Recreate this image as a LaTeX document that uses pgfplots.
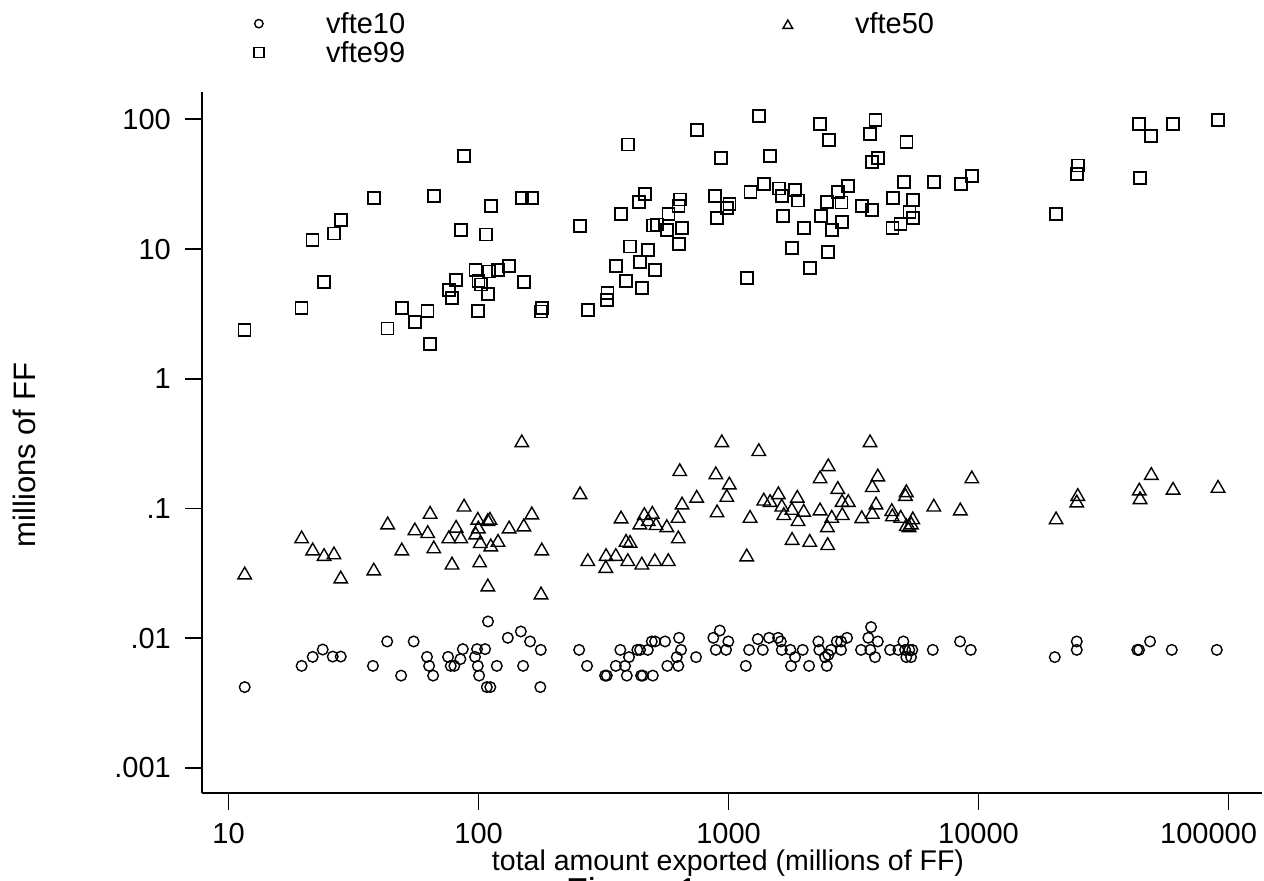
\documentclass[border=0pt]{standalone}
\usepackage{pgfplots}
\pgfplotsset{compat=1.18}
\usepackage{fontspec}
\setmainfont{Liberation Sans}
\begin{document}
\begin{tikzpicture}
\useasboundingbox (0pt,0pt) rectangle (1264pt,881pt);
\begin{axis}[
  at={(202pt,88pt)}, anchor=south west,
  scale only axis, width=1060pt, height=701pt,
  xmode=log, ymode=log,
  xmin=7.83, xmax=136100, ymin=0.000641, ymax=162.4,
  axis x line*=bottom, axis y line*=left,
  axis line style={line width=2pt, -},
  xtick={10,100,1000,10000,100000},
  xticklabels={10,100,1000,10000,{\hskip-40pt 100000}},
  ytick={0.001,0.01,0.1,1,10,100},
  yticklabels={.001,.01,.1,1,10,100},
  xminorticks=false, yminorticks=false,
  tick align=outside, major tick length=17pt,
  tick style={line width=1.8pt, black},
  tick label style={font=\fontsize{29}{34}\selectfont, inner sep=0pt},
  xticklabel style={anchor=north, yshift=-13.5pt},
  yticklabel style={anchor=east, xshift=-14pt},
  clip=false,
  legend columns=2,
  legend style={at={(axis description cs:0.0453,1.1138)}, anchor=north west,
    draw=none, fill=none, inner sep=0pt, row sep=6.25pt,
    font=\fontsize{29}{34}\selectfont,
    nodes={inner sep=0pt, text depth=0.15em},
    /tikz/every even column/.append style={column sep=374pt}},
  legend cell align=left,
  legend image code/.code={\path (-8pt,0pt) (66.7pt,0pt); \draw[#1] plot coordinates {(0pt,0pt)};},
]
\addplot[only marks, mark=o, mark size=5.3pt, mark options={line width=1.4pt, black},
  legend image post style={mark size=4.2pt, line width=1.2pt}]
coordinates {
(11.6,0.0042) (19.6,0.00612) (21.7,0.00718) (23.8,0.00818) (26.1,0.00722) (28.1,0.00722)
(37.8,0.00612) (43.1,0.00944) (49.0,0.00515) (55.0,0.00944) (62.2,0.00718) (63.4,0.00612)
(65.8,0.00515) (75.5,0.00718) (77.4,0.00612) (80.0,0.00612) (84.6,0.0069) (86.5,0.00824)
(96.8,0.00718) (98.6,0.00824) (99.3,0.00612) (100.5,0.00515) (106.2,0.00824) (107.9,0.0042)
(111.4,0.0042) (109.1,0.01346) (118.3,0.00612) (130.9,0.01007) (147.6,0.01127) (150.7,0.00612)
(160.7,0.00944) (177.4,0.00813) (176.6,0.0042)
(252.5,0.00813) (271.6,0.00612) (320.6,0.00515) (325.8,0.00515) (354,0.00612) (369,0.00813)
(385.5,0.00612) (399.9,0.00715) (391.7,0.00515) (431.5,0.00813) (442.6,0.00813) (446.7,0.00515)
(453.6,0.00515) (475.3,0.00813) (497.7,0.00515) (493,0.00944) (508.2,0.00944) (557.2,0.00944)
(568.9,0.00612) (620.5,0.00715) (629.5,0.00612) (645.7,0.00813) (633.9,0.01007) (741.3,0.00715)
(869,0.01007) (922.5,0.01146) (889,0.00813) (977.2,0.00813) (997.7,0.00944) (1172,0.00612)
(1208,0.00813) (1309,0.00985) (1371,0.00813) (1452,0.01007) (1578,0.01007) (1618,0.00944)
(1633,0.00813) (1767,0.00813) (1778,0.00612) (1845,0.00715) (1980,0.00813) (2099,0.00612)
(2286,0.00944) (2307,0.00813) (2432,0.00715) (2471,0.00612) (2570,0.00813) (2506,0.00745)
(2710,0.00944) (2818,0.00944) (2818,0.00813) (2979,0.01007) (3388,0.00813) (3715,0.01219)
(3623,0.01007) (3690,0.00813) (3954,0.00944) (3855,0.00715) (4426,0.00813) (4778,0.00813)
(5003,0.00944) (5082,0.00813) (5140,0.00715) (5284,0.00813) (5433,0.00813) (5370,0.00715)
(6561,0.00813) (8433,0.00944) (9306,0.00813) (20180,0.00715) (24710,0.00944) (24710,0.00813)
(43150,0.00813) (43850,0.00813) (48530,0.00944) (59290,0.00813) (89740,0.00813)
};
\addlegendentry{vfte10}
\addplot[only marks, mark=triangle, mark size=7.8pt, mark options={line width=1.4pt, black, yshift=-1.9pt},
  legend image post style={mark size=5.5pt, line width=1.2pt}]
coordinates {
(11.6,0.0318) (19.6,0.0603) (21.7,0.0487) (24.1,0.0441) (26.4,0.0454) (28.1,0.0296)
(38.1,0.0341) (43.3,0.0773) (49.3,0.0487) (55.6,0.0695) (62.6,0.0662) (64.0,0.0933)
(66.2,0.0505) (76.0,0.0603) (78.3,0.0379) (81.3,0.0728) (84.9,0.0603) (87.5,0.106)
(99.3,0.0839) (97.4,0.0647) (99.8,0.0719) (101.6,0.0555) (101,0.0394) (108.9,0.082)
(111,0.0839) (111.9,0.0523) (119.6,0.0567) (108.9,0.0257) (132.5,0.0719) (148.9,0.332)
(151.7,0.0746) (163.3,0.0923) (179,0.0487) (177.8,0.0223)
(254.7,0.132) (273.5,0.0403) (323.6,0.0441) (322.8,0.0357) (354,0.0441) (371.5,0.0859)
(395.4,0.0403) (389,0.0567) (403.6,0.0557) (441.6,0.0773) (449.8,0.0379) (460.3,0.0912)
(477.5,0.082) (495.5,0.0933) (506.9,0.0403) (512.9,0.0764) (566.2,0.0736) (574.1,0.0403)
(628.1,0.0869) (629.5,0.0603) (651.6,0.110) (637.9,0.199) (746,0.124) (889,0.188)
(899.5,0.0957) (939.7,0.332) (983.9,0.126) (1007,0.157) (1182,0.0438) (1219,0.0869)
(1321,0.284) (1383,0.118) (1466,0.115) (1582,0.132) (1633,0.106) (1663,0.0912)
(1791,0.100) (1884,0.124) (1897,0.082) (1998,0.0967) (1795,0.0587) (2112,0.0567)
(2323,0.0991) (2323,0.175) (2506,0.217) (2485,0.0736) (2492,0.0535) (2587,0.0869)
(2735,0.145) (2844,0.115) (2850,0.0912) (3013,0.115) (3410,0.0863) (3681,0.332)
(3758,0.150) (3954,0.181) (3758,0.0933) (3890,0.110) (4497,0.0979) (4519,0.0891)
(4883,0.0869) (5100,0.128) (5140,0.075) (5140,0.137) (5457,0.0845) (5383,0.0773)
(5272,0.0736) (6622,0.106) (8453,0.0991) (9397,0.175) (20420,0.0845) (24940,0.128)
(24710,0.114) (43950,0.141) (49090,0.186) (44260,0.121) (59980,0.143) (90780,0.148)
};
\addlegendentry{vfte50}
\addplot[only marks, mark=square, mark size=6pt, mark options={line width=1.5pt, black},
  legend image post style={mark size=5pt, line width=1.3pt}]
coordinates {
(11.6,2.37) (19.6,3.50) (24.1,5.56) (21.7,11.7) (26.4,13.2) (28.1,16.7) (38.1,24.7)
(43.3,2.45) (49.3,3.50) (55.6,2.73) (62.6,3.34) (64.0,1.85) (66.2,25.6) (87.5,52.1)
(84.9,14.0) (81.3,5.75) (76.0,4.82) (78.3,4.18) (99.3,3.34) (97.4,6.87) (99.8,5.65)
(102.3,5.33) (108.9,4.49) (110.2,6.71) (119.4,6.87) (132.1,7.38) (151.7,5.56) (177.8,3.30)
(179,3.50) (107.2,13.0) (111.9,21.4) (149.3,24.7) (163.3,24.7)
(254.7,15.0) (273.5,3.38) (327.3,4.60) (325.8,4.03) (354.8,7.38) (388.1,5.65) (370.7,18.6)
(396.3,63.8) (403.6,10.5) (449.8,4.99) (442.6,7.92) (475.3,9.81) (506.9,6.87) (438.5,23.0)
(463.4,26.5) (497.7,15.2) (516.4,15.5) (574.1,18.6) (567.5,14.0) (629.5,21.4) (639.7,24.1)
(650.1,14.5) (632.4,10.9) (748.2,82.7) (883.1,25.6) (899.5,17.3) (986.3,20.7) (1007,22.2)
(933.3,50.3) (1186,5.96) (1222,27.5) (1324,106) (1383,31.7) (1466,52.1) (1588,29.2)
(1637,25.6) (1652,17.9) (1841,28.5) (1897,23.6) (1795,10.2) (2004,14.5) (2118,7.12)
(2323,92.0) (2523,69.2) (2339,17.9) (2471,23.0) (2587,14.0) (2500,9.47) (2735,27.5)
(2825,22.8) (2999,30.6) (2844,16.1) (3420,21.4) (3741,20.0) (3673,77.0) (3878,98.8)
(3750,46.8) (3954,50.3) (4537,24.7) (4519,14.5) (4883,15.6) (5035,32.8) (5140,66.8)
(5457,23.8) (5284,19.3) (5457,17.3) (6622,32.8) (8511,31.7) (9397,36.5) (20420,18.6)
(24940,44.2) (24710,37.8) (43850,92.0) (48860,74.3) (59980,92.0) (44260,35.2) (90780,98.8)
};
\addlegendentry{vfte99}
\end{axis}
\node[rotate=90, anchor=south, inner sep=0pt, font=\fontsize{31}{36}\selectfont] at (36.5pt,426pt) {millions of FF};
\node[anchor=base, inner sep=0pt, font=\fontsize{28.5}{34}\selectfont] at (728pt,10.5pt) {total amount exported (millions of FF)};
\node[anchor=base, inner sep=0pt, font=\fontsize{36}{42}\selectfont] at (632pt,-22.5pt) {Figure 1};
\end{tikzpicture}
\end{document}
